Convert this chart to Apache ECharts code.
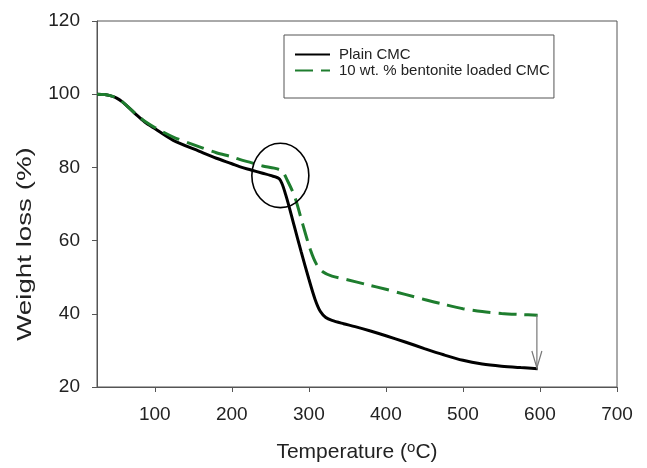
<!DOCTYPE html>
<html>
<head>
<meta charset="utf-8">
<script src="https://cdn.jsdelivr.net/npm/echarts@6/dist/echarts.min.js"></script>
<style>
html,body{margin:0;padding:0;background:#fff;}
#chart{width:647px;height:468px;}
</style>
</head>
<body>
<div id="chart"></div>
<script>
// ---- data (temperature °C, weight %) ----
var plainTemp   = [25, 35, 42, 50, 58, 67, 77, 87, 100, 124, 158, 180, 200, 210, 225, 240, 250, 262, 270, 281, 290, 300, 308, 315, 322, 330, 345, 360, 380, 400, 425, 450, 475, 500, 525, 550, 575, 597];
var plainWeight = [100, 99.9, 99.6, 99, 97.9, 96.2, 94.2, 92.4, 90.6, 87.4, 84.4, 82.5, 81, 80.2, 79.3, 78.4, 77.8, 76.8, 72.5, 64, 57, 49.5, 44, 40.6, 39, 38.2, 37.3, 36.5, 35.3, 34, 32.3, 30.5, 28.8, 27.3, 26.3, 25.7, 25.3, 25];

var bentTemp   = [25, 35, 42, 50, 58, 67, 77, 87, 100, 124, 158, 180, 200, 210, 225, 240, 255, 265, 272, 282, 292, 302, 310, 318, 330, 350, 375, 400, 425, 450, 475, 500, 525, 550, 575, 597];
var bentWeight = [100, 99.9, 99.6, 99, 97.9, 96.2, 94.3, 92.6, 90.9, 88.3, 85.6, 84, 82.9, 82.2, 81.3, 80.4, 79.8, 79, 76.5, 71.8, 64.5, 57.5, 53.5, 51.5, 50.3, 49.3, 48, 46.7, 45.3, 43.9, 42.6, 41.4, 40.6, 40.1, 39.8, 39.6];

var seriesNames = ['Plain CMC', '10 wt. % bentonite loaded CMC'];
var xTicks = [100, 200, 300, 400, 500, 600, 700];
var yTicks = [20, 40, 60, 80, 100, 120];

// annotations (data units)
var circleCenter = [263, 77.8];
var circleRadius = [37, 8.8];
var arrowFrom = [596, 39.6];
var arrowTo = [596, 25.2];

function zip(a, b) { return a.map(function (v, i) { return [v, b[i]]; }); }

var FONT = '"Liberation Sans", Arial, sans-serif';
var chart = echarts.init(document.getElementById('chart'), null, {renderer: 'canvas'});

var option = {
  backgroundColor: '#fff',
  animation: false,
  grid: {left: 97, right: 30, top: 21, bottom: 75, show: true, borderColor: '#555', borderWidth: 1, backgroundColor: 'transparent'},
  legend: {
    data: seriesNames,
    orient: 'vertical',
    left: 284, top: 35,
    itemWidth: 35, itemHeight: 14, itemGap: 1,
    padding: [12, 4, 20, 10],
    borderColor: '#555', borderWidth: 1,
    itemStyle: {opacity: 0},
    textStyle: {fontFamily: FONT, fontSize: 15, color: '#222', padding: [0, 0, 0, 4], lineHeight: 15}
  },
  graphic: [{
    type: 'text', x: 25, y: 244, rotation: Math.PI / 2, scaleX: 1.32, scaleY: 1,
    style: {text: 'Weight loss (%)', fontFamily: FONT, fontSize: 21, fill: '#222', align: 'center', verticalAlign: 'middle'}
  }],
  xAxis: {
    type: 'value', min: 25, max: 700,
    name: 'Temperature ({sup|o}C)',
    nameLocation: 'middle', nameGap: 53,
    nameTextStyle: {fontFamily: FONT, fontSize: 21, color: '#222',
      rich: {sup: {fontFamily: FONT, fontSize: 15, color: '#222', padding: [0, 0, 10, 0]}}},
    axisLine: {show: true, lineStyle: {color: '#555', width: 1}},
    axisTick: {show: true, inside: false, length: 5, customValues: xTicks, lineStyle: {color: '#555'}},
    axisLabel: {customValues: xTicks, fontFamily: FONT, fontSize: 19, color: '#222', margin: 18},
    splitLine: {show: false}
  },
  yAxis: {
    type: 'value', min: 20, max: 120,
    axisLine: {show: true, lineStyle: {color: '#555', width: 1}},
    axisTick: {show: true, inside: false, length: 5, customValues: yTicks, lineStyle: {color: '#555'}},
    axisLabel: {customValues: yTicks, fontFamily: FONT, fontSize: 19, color: '#222', margin: 17},
    splitLine: {show: false}
  },
  series: [
    {
      name: seriesNames[0], type: 'line', data: zip(plainTemp, plainWeight),
      showSymbol: false, symbol: 'none', smooth: 0.3,
      lineStyle: {color: '#000', width: 3},
      itemStyle: {color: '#000'}, z: 3
    },
    {
      name: seriesNames[1], type: 'line', data: zip(bentTemp, bentWeight),
      showSymbol: false, symbol: 'none', smooth: 0.3,
      lineStyle: {color: '#1e7d2e', width: 3, type: [18, 8]},
      itemStyle: {color: '#1e7d2e'}, z: 4
    },
    {
      type: 'custom', silent: true, z: 5,
      data: [[circleCenter[0], circleCenter[1], circleRadius[0], circleRadius[1]]],
      renderItem: function (params, api) {
        var c = api.coord([api.value(0), api.value(1)]);
        var s = api.size([api.value(2), api.value(3)]);
        return {type: 'ellipse', shape: {cx: c[0], cy: c[1], rx: s[0], ry: s[1]},
                style: {fill: 'none', stroke: '#000', lineWidth: 1.6}};
      }
    },
    {
      type: 'custom', silent: true, z: 6,
      data: [[arrowFrom[0], arrowFrom[1], arrowTo[0], arrowTo[1]]],
      renderItem: function (params, api) {
        var a = api.coord([api.value(0), api.value(1)]);
        var b = api.coord([api.value(2), api.value(3)]);
        var st = {stroke: '#777', lineWidth: 1.2, fill: 'none'};
        return {type: 'group', children: [
          {type: 'line', shape: {x1: a[0], y1: a[1], x2: b[0], y2: b[1]}, style: st},
          {type: 'polyline', shape: {points: [[b[0] - 5, b[1] - 17], [b[0], b[1]], [b[0] + 5, b[1] - 17]]}, style: st}
        ]};
      }
    }
  ]
};
chart.setOption(option);
</script>
</body>
</html>
